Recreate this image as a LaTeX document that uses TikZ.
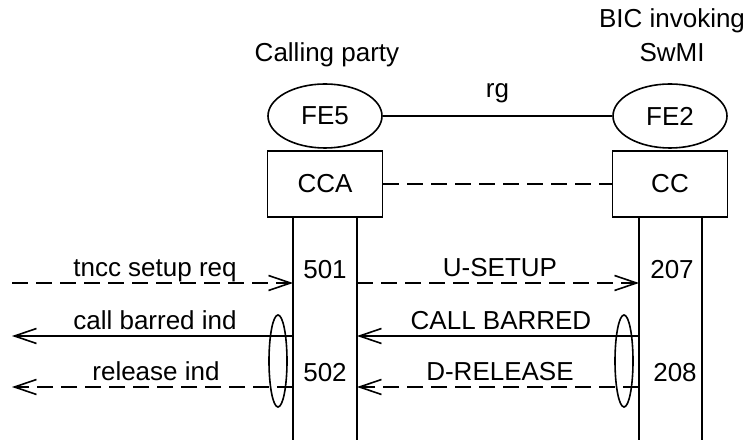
\documentclass[tikz,border=0pt]{standalone}
\usepackage{fontspec}
\setmainfont{Liberation Sans}
\usepackage{tikz}
\usetikzlibrary{arrows.meta,shapes.geometric,positioning}
\tikzstyle{fenode}=[ellipse, draw, minimum width=57pt, minimum height=32pt, inner sep=0pt]
\tikzstyle{entbox}=[rectangle, draw, minimum width=57.5pt, minimum height=33pt, inner sep=0pt]
\tikzstyle{setnode}=[ellipse, draw, minimum width=9pt, minimum height=46pt, inner sep=0pt]
\tikzstyle{msgline}=[->, >={Straight Barb[length=11pt,width=7.5pt]}]
\tikzstyle{dashline}=[dash pattern=on 8pt off 4pt]
\tikzstyle{lbl}=[anchor=base, inner sep=0pt]

\begin{document}
\begin{tikzpicture}[x=0.5pt, y=-0.5pt, line width=0.8pt, font=\fontsize{13pt}{15.6pt}\selectfont]
        \useasboundingbox (0,0) rectangle (749,442);
        \node[lbl] (calling) at (327,62) {Calling party};
        \node[lbl] (bic) at (672,28) {BIC invoking};
        \node[lbl] (swmi) at (672,62) {SwMI};
        \node[fenode] (fe5) at (325,116) {FE5};
        \node[fenode] (fe2) at (670,116) {FE2};
        \node[entbox] (cca) at (325,184) {CCA};
        \node[entbox] (cc) at (670,184) {CC};
        \draw (fe5) -- (fe2) node[midway, lbl, yshift=9pt] (rg) {rg};
        \draw[dashline] (cca) -- (cc);
        \coordinate (la) at (293,217);
        \coordinate (lb) at (357,217);
        \coordinate (ra) at (639,217);
        \coordinate (rb) at (702,217);
        \coordinate (lae) at (293,440);
        \coordinate (lbe) at (357,440);
        \coordinate (rae) at (639,440);
        \coordinate (rbe) at (702,440);
        \draw (la) -- (lae);
        \draw (lb) -- (lbe);
        \draw (ra) -- (rae);
        \draw (rb) -- (rbe);
        \coordinate (e1) at (12,283);
        \coordinate (e2) at (12,336);
        \coordinate (e3) at (12,387);
        \coordinate (la1) at (293,283);
        \coordinate (la2) at (293,336);
        \coordinate (la3) at (293,387);
        \coordinate (lb1) at (357,283);
        \coordinate (lb2) at (357,336);
        \coordinate (lb3) at (357,387);
        \coordinate (ra1) at (639,283);
        \coordinate (ra2) at (639,336);
        \coordinate (ra3) at (639,387);
        \node[setnode] (s502) at (278,361) {};
        \node[setnode] (s208) at (624,361) {};
        \draw[msgline, dashline] (e1) -- (la1);
        \draw[msgline] (la2) -- (e2);
        \draw[msgline, dashline] (la3) -- (e3);
        \draw[msgline, dashline] (lb1) -- (ra1);
        \draw[msgline] (ra2) -- (lb2);
        \draw[msgline, dashline] (ra3) -- (lb3);
        \node[lbl] (m1) at (155,277) {tncc setup req};
        \node[lbl] (m2) at (155,330) {call barred ind};
        \node[lbl] (m3) at (156,381) {release ind};
        \node[lbl] (m4) at (500,277) {U-SETUP};
        \node[lbl] (m5) at (501,330) {CALL BARRED};
        \node[lbl] (m6) at (500,381) {D-RELEASE};
        \node (n501) at (325,270) {501};
        \node (n502) at (325,373) {502};
        \node (n207) at (672,270) {207};
        \node (n208) at (675,373) {208};
      \end{tikzpicture}
\end{document}
